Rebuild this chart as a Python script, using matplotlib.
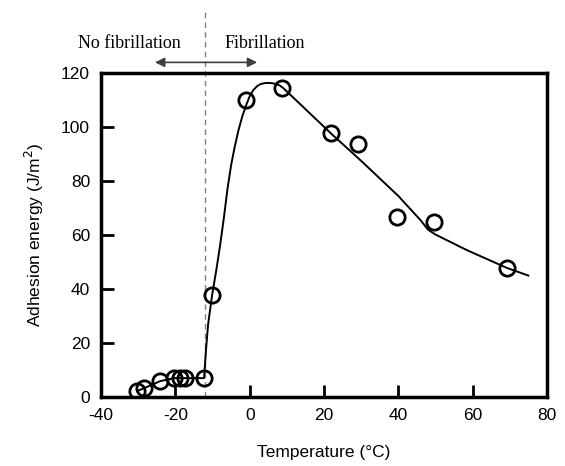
import numpy as np
import matplotlib.pyplot as plt

# measured adhesion energy
temp = [-30.3, -28.4, -24.1, -20.3, -18.7, -17.4, -12.3, -10.1, -1.0, 8.7, 21.9, 29.2, 39.7, 49.6, 69.3]
energy = [2.2, 3.3, 5.9, 7.0, 7.0, 7.0, 7.0, 37.8, 110.0, 114.5, 98.0, 93.7, 66.7, 64.8, 47.8]

# guide curve through the data
curve_t = [-30.3, -28.4, -24.1, -20.3, -17.4, -12.3, -11.8, -11.2, -10.1, -9.0, -8.0, -7.0, -6.0,
           -5.0, -4.0, -3.0, -2.0, -1.0, 0.0, 1.0, 2.0, 3.0, 4.0, 5.0, 6.0, 7.0, 8.0, 9.0, 10.0,
           22.0, 30.0, 40.0, 46.0, 48.0, 50.0, 58.5, 69.3, 75.0]
curve_e = [2.2, 3.3, 5.9, 7.0, 7.0, 7.0, 17.0, 27.0, 38.0, 47.0, 56.0, 66.0, 77.0,
           86.0, 93.0, 99.0, 104.0, 108.0, 111.5, 113.8, 115.2, 116.0, 116.3, 116.4, 116.3, 116.0, 115.5, 114.5, 113.2,
           97.5, 87.5, 74.5, 65.5, 62.0, 60.2, 54.4, 47.8, 45.0]

t_fib = -12

plt.rcParams['font.family'] = ['Liberation Sans', 'DejaVu Sans']
plt.rcParams['axes.unicode_minus'] = False
fig = plt.figure(figsize=(5.65, 4.66), dpi=100)
ax = fig.add_axes([0.179, 0.148, 0.789, 0.695])

ax.plot(curve_t, curve_e, color='k', lw=1.4, zorder=2)
ax.plot(temp, energy, 'o', ms=11, mfc='none', mec='k', mew=2, zorder=3)

# fibrillation threshold
ax.plot([t_fib, t_fib], [0, 144], ls=(0, (4, 3)), color='0.5', lw=1, clip_on=False, zorder=1)
ax.annotate('', xy=(-25.5, 124), xytext=(2.0, 124), annotation_clip=False,
            arrowprops=dict(arrowstyle='<|-|>', color='0.25', lw=1.2, mutation_scale=14,
                            shrinkA=0, shrinkB=0))
ax.text(-18.7, 131, 'No fibrillation', ha='right', va='center', fontsize=13,
        family='Liberation Serif')
ax.text(-6.9, 131, 'Fibrillation', ha='left', va='center', fontsize=13,
        family='Liberation Serif')

ax.set_xlim(-40, 80)
ax.set_ylim(0, 120)
ax.set_xticks(np.arange(-40, 81, 20))
ax.set_yticks(np.arange(0, 121, 20))
ax.tick_params(direction='in', length=9, width=2, labelsize=12.5, pad=8)
for s in ax.spines.values():
    s.set_linewidth(2.5)

ax.set_xlabel('Temperature (°C)', fontsize=12.5, labelpad=16)
ax.set_ylabel('Adhesion energy (J/m$^2$)', fontsize=12.5, labelpad=11)

fig.savefig('out.png', dpi=100)
